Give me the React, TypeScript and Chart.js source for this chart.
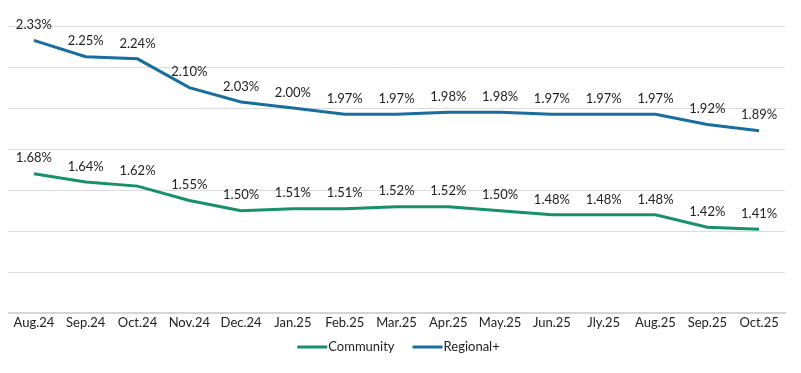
import React, { useEffect, useRef } from "react";
import { Chart, registerables } from "chart.js";

Chart.register(...registerables);

const categories = ["Aug.24", "Sep.24", "Oct.24", "Nov.24", "Dec.24", "Jan.25", "Feb.25", "Mar.25", "Apr.25", "May.25", "Jun.25", "Jly.25", "Aug.25", "Sep.25", "Oct.25"];
const community = [1.68, 1.64, 1.62, 1.55, 1.50, 1.51, 1.51, 1.52, 1.52, 1.50, 1.48, 1.48, 1.48, 1.42, 1.41];
const regional = [2.33, 2.25, 2.24, 2.10, 2.03, 2.00, 1.97, 1.97, 1.98, 1.98, 1.97, 1.97, 1.97, 1.92, 1.89];

const GREEN = "#17916a";
const BLUE = "#1a6e9e";
const FONT = "Lato";

const labelPlugin = {
  id: "valueLabels",
  afterDatasetsDraw(chart: any) {
    const ctx = chart.ctx;
    ctx.save();
    ctx.font = `13px ${FONT}`;
    ctx.fillStyle = "#222";
    ctx.textAlign = "center";
    ctx.textBaseline = "bottom";
    chart.data.datasets.forEach((ds: any, i: number) => {
      const meta = chart.getDatasetMeta(i);
      meta.data.forEach((pt: any, j: number) => {
        ctx.fillText(ds.data[j].toFixed(2) + "%", pt.x, pt.y - 9);
      });
    });
    ctx.restore();
  },
};

const legendPlugin = {
  id: "lineLegend",
  afterDraw(chart: any) {
    const ctx = chart.ctx;
    ctx.save();
    ctx.font = `13px ${FONT}`;
    ctx.textBaseline = "middle";
    ctx.textAlign = "left";
    const lineW = 30;
    const gap = 1;
    const itemGap = 18;
    const items = chart.data.datasets.map((ds: any) => ({
      label: ds.label,
      color: ds.borderColor,
      w: lineW + gap + ctx.measureText(ds.label).width,
    }));
    const total = items.reduce((s: number, it: any) => s + it.w, 0) + itemGap * (items.length - 1);
    let x = chart.width / 2 - total / 2 - 2;
    const y = 339;
    items.forEach((it: any) => {
      ctx.fillStyle = it.color;
      ctx.fillRect(x, y - 1.5, lineW, 3);
      ctx.fillStyle = "#222";
      ctx.fillText(it.label, x + lineW + gap, y);
      x += it.w + itemGap;
    });
    ctx.restore();
  },
};

export default function App() {
  const ref = useRef<HTMLCanvasElement>(null);
  useEffect(() => {
    if (!ref.current) return;
    const chart = new Chart(ref.current, {
      type: "line",
      data: {
        labels: categories,
        datasets: [
          { label: "Community", data: community, borderColor: GREEN, backgroundColor: GREEN, borderWidth: 3, pointRadius: 0, tension: 0 },
          { label: "Regional+", data: regional, borderColor: BLUE, backgroundColor: BLUE, borderWidth: 3, pointRadius: 0, tension: 0 },
        ],
      },
      options: {
        animation: false,
        responsive: false,
        maintainAspectRatio: false,
        layout: { padding: { top: 18, right: 8, left: 0, bottom: 32 } },
        scales: {
          x: {
            offset: true,
            grid: { display: false, drawTicks: false },
            border: { display: true, color: "#d4d4d4", width: 2 },
            ticks: { color: "#222", font: { family: FONT, size: 13 }, padding: 2, maxRotation: 0, autoSkip: false },
          },
          y: {
            display: true,
            min: 1.0,
            max: 2.4,
            ticks: { display: false, stepSize: 0.2 },
            border: { display: false },
            grid: { color: "#dcdcdc", drawTicks: false, lineWidth: 1 },
          },
        },
        plugins: {
          legend: { display: false },
          tooltip: { enabled: false },
        },
      },
      plugins: [labelPlugin, legendPlugin],
    });
    return () => chart.destroy();
  }, []);
  return <canvas ref={ref} width={785} height={357} style={{ display: "block" }} />;
}
